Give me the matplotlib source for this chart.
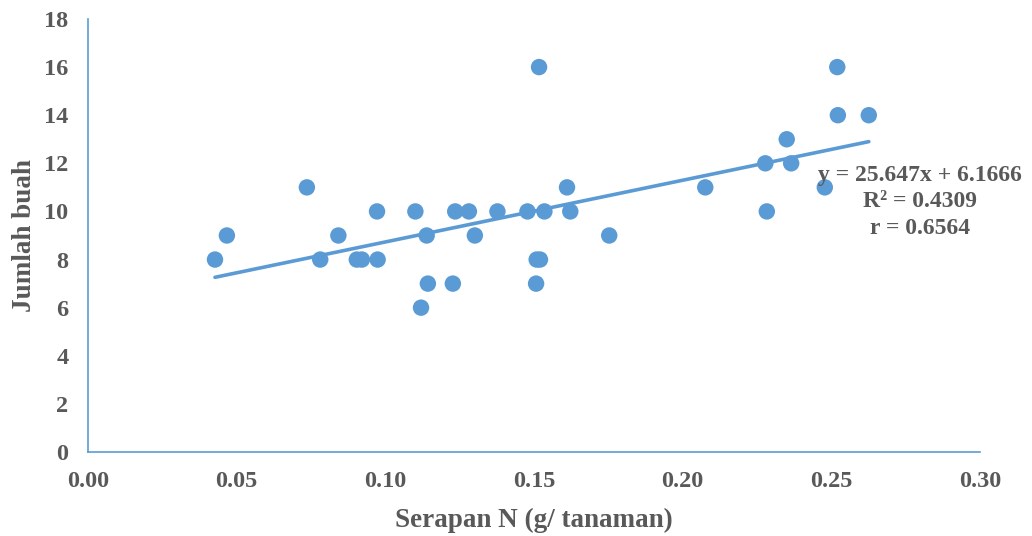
import numpy as np
import matplotlib
matplotlib.use("Agg")
from matplotlib import pyplot as plt

# serapan N (g/tanaman) vs jumlah buah
serapan_n = [0.0427, 0.0467, 0.0736, 0.0781, 0.0842, 0.0904, 0.0921, 0.0972,
             0.0974, 0.1101, 0.1139, 0.1143, 0.1120, 0.1227, 0.1235, 0.1281,
             0.1301, 0.1377, 0.1478, 0.1517, 0.1509, 0.1520, 0.1507, 0.1535,
             0.1611, 0.1622, 0.1753, 0.2076, 0.2278, 0.2283, 0.2350, 0.2365,
             0.2478, 0.2520, 0.2522, 0.2626]
jumlah_buah = [8, 9, 11, 8, 9, 8, 8, 10,
               8, 10, 9, 7, 6, 7, 10, 10,
               9, 10, 10, 16, 8, 8, 7, 10,
               11, 10, 9, 11, 12, 10, 13, 12,
               11, 16, 14, 14]

# trendline from the chart
slope = 25.647
intercept = 6.1666
r2 = 0.4309
r = 0.6564

x_ticks = [0.00, 0.05, 0.10, 0.15, 0.20, 0.25, 0.30]
y_ticks = list(range(0, 19, 2))

blue = "#5B9BD5"
grey = "#595959"
plt.rcParams["font.family"] = ["Liberation Serif", "DejaVu Serif"]
plt.rcParams["font.weight"] = "bold"

fig = plt.figure(figsize=(10.32, 5.36), dpi=100)
ax = fig.add_axes([0.0853, 0.1567, 0.8643, 0.8079])

ax.scatter(serapan_n, jumlah_buah, s=140, color=blue, edgecolors="none", zorder=3)

xs = np.array([min(serapan_n), max(serapan_n)])
ax.plot(xs, slope * xs + intercept, color=blue, lw=2.6, solid_capstyle="round", zorder=2)

ax.set_xlim(0, 0.30)
ax.set_ylim(0, 18)
ax.set_xticks(x_ticks)
ax.set_xticklabels(["%.2f" % v for v in x_ticks])
ax.set_yticks(y_ticks)

for side in ["top", "right"]:
    ax.spines[side].set_visible(False)
for side in ["left", "bottom"]:
    ax.spines[side].set_color(blue)
    ax.spines[side].set_linewidth(1.2)

ax.tick_params(length=0, labelsize=17.5, labelcolor=grey)
ax.tick_params(axis="x", pad=14)
ax.tick_params(axis="y", pad=14)

ax.set_xlabel("Serapan N (g/ tanaman)", fontsize=19.5, color=grey, fontweight="bold", labelpad=11)
ax.set_ylabel("Jumlah buah", fontsize=19.5, color=grey, fontweight="bold", labelpad=5)

ax.text(0.2797, 10.4, "y = 25.647x + 6.1666\nR² = %.4f\nr = %.4f" % (r2, r),
        ha="center", va="center", fontsize=17, color=grey, fontweight="bold",
        linespacing=1.33, zorder=4)

fig.savefig("out.png", dpi=100)
